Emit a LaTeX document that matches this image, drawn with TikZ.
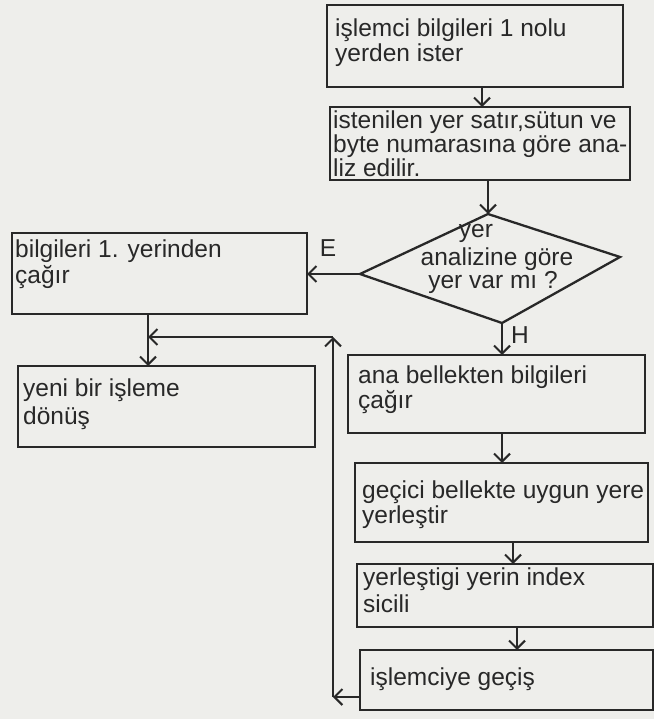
\documentclass[tikz,border=0pt]{standalone}
\usepackage{fontspec}
\setmainfont{Liberation Sans}
\usetikzlibrary{arrows.meta,calc}
\definecolor{ink}{RGB}{40,40,40}
\definecolor{paper}{RGB}{238,238,235}
\begin{document}
\begin{tikzpicture}[x=1pt,y=-1pt,
  box/.style={draw=ink,line width=2.3pt,inner sep=0pt,outer sep=0pt,anchor=north west},
  txt/.style={anchor=base west,inner sep=0pt,text=ink,font=\fontsize{24.5}{25}\selectfont},
  ctxt/.style={anchor=base,inner sep=0pt,text=ink,font=\fontsize{24.5}{25}\selectfont},
  arr/.style={draw=ink,line width=2.1pt,-{Straight Barb[length=8pt,width=16pt,line width=2.1pt]}},
  ln/.style={draw=ink,line width=2pt}]
\fill[paper] (0,0) rectangle (654,719);
\useasboundingbox (0,0) rectangle (654,719);

% boxes
\node[box,minimum width=296pt,minimum height=82pt] (b1) at (327,5) {};
\node[box,minimum width=300pt,minimum height=73pt] (b2) at (330,107) {};
\node[box,minimum width=295pt,minimum height=81pt] (bl) at (12,233) {};
\node[box,minimum width=297pt,minimum height=81pt] (yeni) at (18,366) {};
\node[box,minimum width=297pt,minimum height=78pt] (ana) at (348,355) {};
\node[box,minimum width=293pt,minimum height=79pt] (gec) at (355,463) {};
\node[box,minimum width=296pt,minimum height=63pt] (yer) at (357,564) {};
\node[box,minimum width=293pt,minimum height=60pt] (isl) at (360,650) {};

% diamond
\coordinate (dT) at (488,214);
\coordinate (dL) at (360,274);
\coordinate (dR) at (620,257);
\coordinate (dB) at (502,323);
\draw[ink,line width=2.3pt,line join=miter] (dT) -- (dR) -- (dB) -- (dL) -- cycle;

% texts
\node[txt] (t1a) at (335,37) {işlemci bilgileri 1 nolu};
\node[txt] (t1b) at (335,62) {yerden ister};
\node[txt] (t2a) at (333,129) {istenilen yer satır,sütun ve};
\node[txt] (t2b) at (333,153) {byte numarasına göre ana-};
\node[txt] (t2c) at (333,177) {liz edilir.};
\node[ctxt] (d1) at (476,237) {yer};
\node[ctxt] (d2) at (497,265) {analizine göre};
\node[ctxt] (d3) at (493,288) {yer var mı ?};
\node[txt] (tla) at (15,257) {bilgileri 1. yerinden};
\node[txt] (tlb) at (15,283) {çağır};
\node[txt] (tya) at (23,396) {yeni bir işleme};
\node[txt] (tyb) at (23,424) {dönüş};
\node[txt] (taa) at (358,383) {ana bellekten bilgileri};
\node[txt] (tab) at (358,408) {çağır};
\node[txt] (tga) at (362,498) {geçici bellekte uygun yere};
\node[txt] (tgb) at (362,523) {yerleştir};
\node[txt] (tra) at (363,585) {yerleştigi yerin index};
\node[txt] (trb) at (363,612) {sicili};
\node[txt] (tia) at (370,685) {işlemciye geçiş};
\node[ctxt] (lE) at (328,256) {E};
\node[ctxt] (lH) at (520,343) {H};

% connectors
\coordinate (x1) at (482,0);
\coordinate (x2) at (513,0);
\coordinate (x3) at (517,0);
\coordinate (xl) at (148,0);
\coordinate (lp) at (333,697);
\coordinate (lq) at (333,337);

\draw[arr] (b1.south -| x1) -- (b2.north -| x1);
\draw[arr] (b2.south -| dT) -- (dT);
\draw[arr] (dL) -- (dL -| bl.east);
\draw[arr] (dB) -- (dB |- ana.north);
\draw[arr] (ana.south -| dB) -- (gec.north -| dB);
\draw[arr] (gec.south -| x2) -- (yer.north -| x2);
\draw[arr] (yer.south -| x3) -- (isl.north -| x3);
\draw[arr] (lp -| isl.west) -- (lp);
\draw[arr] (lp) -- (lq);
\draw[arr] (lq) -- (lq -| xl);
\draw[arr] (bl.south -| xl) -- (yeni.north -| xl);
\end{tikzpicture}
\end{document}
